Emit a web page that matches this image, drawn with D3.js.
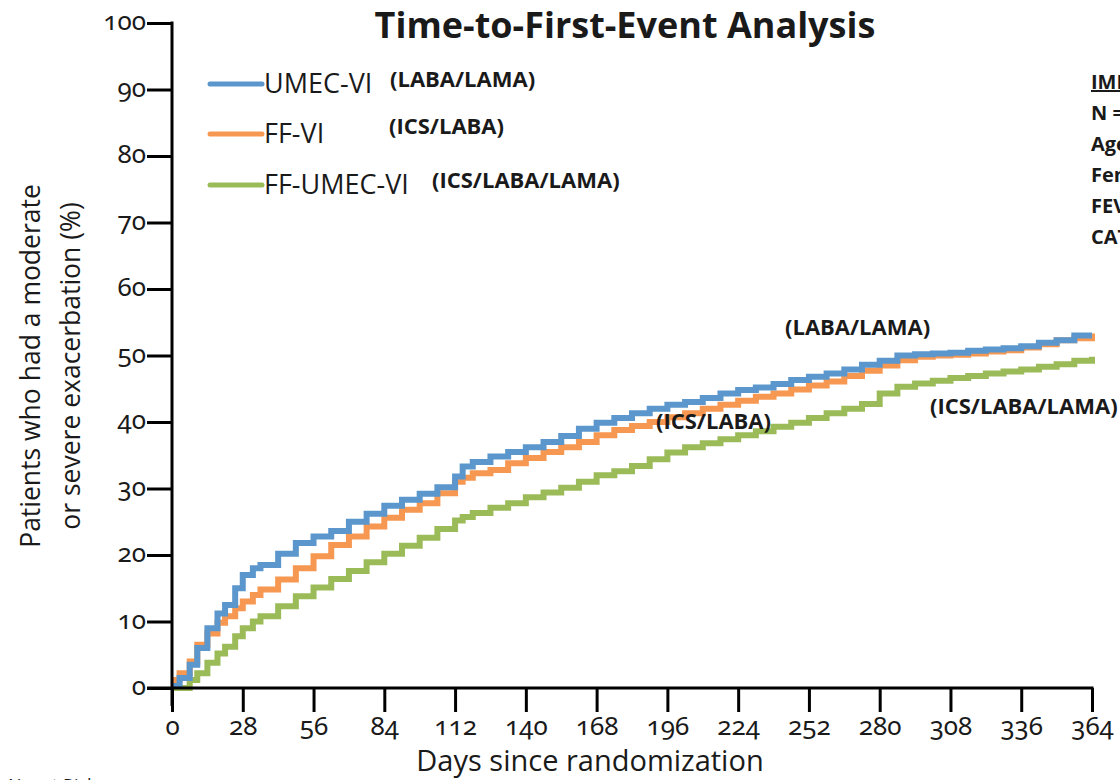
<!DOCTYPE html>
<html>
<head>
<meta charset="utf-8">
<script src="https://cdn.jsdelivr.net/npm/d3@7"></script>
<style>
  html, body { margin: 0; padding: 0; background: #fff; overflow: hidden; }
  svg { display: block; }
  .num { font-family: "Noto Sans", "Open Sans", sans-serif; font-size: 26px; font-variant-numeric: oldstyle-nums; font-feature-settings: "onum" 1; }
</style>
</head>
<body>
<svg id="chart" width="1120" height="780"></svg>
<script>
// ---- data ----
const days = [0,3,7,10,14,18,21,25,28,32,35,42,49,56,63,70,77,84,91,98,105,112,115,119,126,133,140,147,154,161,168,175,182,189,196,203,210,217,224,231,238,245,252,259,266,273,280,287,294,301,308,315,322,329,336,343,350,357,364];
const umecVi = [0.3,1.5,3.5,6,9,11.2,12.5,15,17,18,18.5,20.2,21.8,22.8,23.6,25,26.2,27.4,28.3,29.2,30.2,31.8,33.3,34,34.8,35.5,36.2,37,37.9,39,39.9,40.6,41.3,42,42.6,43,43.6,44.3,44.8,45.2,45.7,46.3,46.8,47.3,47.9,48.6,49.2,50,50.2,50.3,50.4,50.7,50.9,51.1,51.4,51.9,52.3,53,53];
const ffVi = [1.2,2.2,4,6.5,8.2,9.8,10.8,12,13,14,14.8,16.3,18,19.8,21.5,22.8,24.3,25.6,26.8,27.8,29.3,31,31.6,32.3,32.8,33.8,34.6,35.5,36.2,37,38,38.8,39.4,40,40.7,41.3,42,42.6,43.2,43.8,44.3,44.9,45.5,46.1,46.9,47.7,48.5,49.3,49.8,50,50.1,50.3,50.6,50.8,51.2,51.7,52.3,52.6,53.3];
const ffUmecVi = [0,0,1.2,2.2,3.8,5.2,6.2,7.8,9,10,10.8,12.3,13.8,15.1,16.4,17.6,18.9,20.2,21.4,22.6,23.9,25.2,25.7,26.3,27.1,27.8,28.7,29.4,30.1,31,32,32.6,33.4,34.4,35.4,36.2,36.8,37.4,38,38.6,39.3,39.9,40.6,41.3,42,42.7,44.3,45.3,45.8,46.2,46.6,46.9,47.3,47.6,47.9,48.3,48.7,49.2,49.8];
const seriesNames = ["UMEC-VI", "FF-VI", "FF-UMEC-VI"];
const seriesClasses = ["(LABA/LAMA)", "(ICS/LABA)", "(ICS/LABA/LAMA)"];
const seriesColors = ["#5b97cc", "#f79852", "#9bbb59"];
const xTicks = [0,28,56,84,112,140,168,196,224,252,280,308,336,364];
const yTicks = [0,10,20,30,40,50,60,70,80,90,100];
const sideText = ["IMPACT", "N = 10,355", "Age, years 65.3", "Female 34%", "FEV1 % pred 45.5", "CAT score 20.1"];

// ---- layout ----
const svg = d3.select("#chart");
const x = d3.scaleLinear().domain([0, 364]).range([172, 1092]);
const y = d3.scaleLinear().domain([0, 100]).range([688, 23]);
const font = '"Open Sans", "Noto Sans", sans-serif';
const ink = "#1a1a1a";

// title
svg.append("text").attr("x", 625).attr("y", 38).attr("text-anchor", "middle")
  .attr("font-family", font).attr("font-weight", 700).attr("font-size", 36).attr("fill", ink)
  .text("Time-to-First-Event Analysis");

// series lines
const all = [umecVi, ffVi, ffUmecVi];
const line = d3.line().x(d => x(d[0])).y(d => y(d[1])).curve(d3.curveStepAfter);
const drawOrder = [2, 1, 0];
drawOrder.forEach(i => {
  const pts = days.map((d, k) => [d, all[i][k]]);
  svg.append("path").attr("d", line(pts)).attr("fill", "none")
    .attr("stroke", seriesColors[i]).attr("stroke-width", 6).attr("stroke-linejoin", "miter");
});

// y axis
const yAxis = svg.append("g").attr("transform", `translate(${x(0)},0)`)
  .call(d3.axisLeft(y).tickValues(yTicks).tickSize(25).tickPadding(1).tickFormat(d3.format("d")));
yAxis.attr("font-size", null).attr("font-family", null);
yAxis.select(".domain").remove();
yAxis.selectAll(".tick line").attr("stroke", "#000").attr("stroke-width", 3);
yAxis.selectAll(".tick text").attr("class", "num").style("font-size", "26px").attr("fill", ink).attr("dy", "0.25em");
svg.append("line").attr("x1", x(0)).attr("x2", x(0)).attr("y1", y(100) - 1.5).attr("y2", 706)
  .attr("stroke", "#000").attr("stroke-width", 3);

// x axis
const xAxis = svg.append("g").attr("transform", `translate(0,${y(0)})`)
  .call(d3.axisBottom(x).tickValues(xTicks).tickSize(24).tickPadding(5).tickFormat(d3.format("d")));
xAxis.attr("font-size", null).attr("font-family", null);
xAxis.select(".domain").remove();
xAxis.selectAll(".tick line").attr("stroke", "#000").attr("stroke-width", 3);
xAxis.selectAll(".tick text").attr("class", "num").style("font-size", "26px").attr("fill", ink);
svg.append("line").attr("x1", 147).attr("x2", x(364) + 1.5).attr("y1", y(0)).attr("y2", y(0))
  .attr("stroke", "#000").attr("stroke-width", 3);

// axis titles
svg.append("text").attr("x", 590).attr("y", 771).attr("text-anchor", "middle")
  .attr("font-family", font).attr("font-size", 29).attr("fill", ink)
  .text("Days since randomization");
const yt = svg.append("text").attr("transform", "translate(0,366) rotate(-90)")
  .attr("text-anchor", "middle").attr("font-family", font).attr("font-size", 26.5)
  .attr("fill", ink);
yt.append("tspan").attr("x", 0).attr("y", 40).text("Patients who had a moderate");
yt.append("tspan").attr("x", 0).attr("y", 80).text("or severe exacerbation (%)");

// legend
const legY = [84, 134, 185];
const legClassX = [390, 389, 432];
seriesNames.forEach((n, i) => {
  svg.append("line").attr("x1", 210).attr("x2", 262).attr("y1", legY[i]).attr("y2", legY[i])
    .attr("stroke", seriesColors[i]).attr("stroke-width", 5).attr("stroke-linecap", "round");
  svg.append("text").attr("x", 264).attr("y", legY[i] + 9).attr("font-family", font)
    .attr("font-size", 27).attr("fill", ink).text(n);
  svg.append("text").attr("x", legClassX[i]).attr("y", legY[i] + (i === 1 ? 0 : 3)).attr("font-family", font)
    .attr("font-size", 22).attr("font-weight", 700).attr("fill", ink).text(seriesClasses[i]);
});

// curve annotations
const ann = [[785, 335, seriesClasses[0]], [656, 429, seriesClasses[1]], [930, 414, seriesClasses[2]]];
ann.forEach(a => {
  svg.append("text").attr("x", a[0]).attr("y", a[1]).attr("font-family", font)
    .attr("font-size", 22).attr("font-weight", 700).attr("fill", ink).text(a[2]);
});

// side text (clipped by page edge, as in the reference)
sideText.forEach((t, i) => {
  const tx = svg.append("text").attr("x", 1091).attr("y", 89 + i * 31).attr("font-family", font)
    .attr("font-size", 20).attr("font-weight", 700).attr("fill", ink).text(t);
  if (i === 0) tx.attr("text-decoration", "underline");
});

// bottom-left footnote (mostly off-page)
svg.append("text").attr("x", 8).attr("y", 792).attr("font-family", font)
  .attr("font-size", 18).attr("fill", ink).text("No. at Risk");
</script>
</body>
</html>
